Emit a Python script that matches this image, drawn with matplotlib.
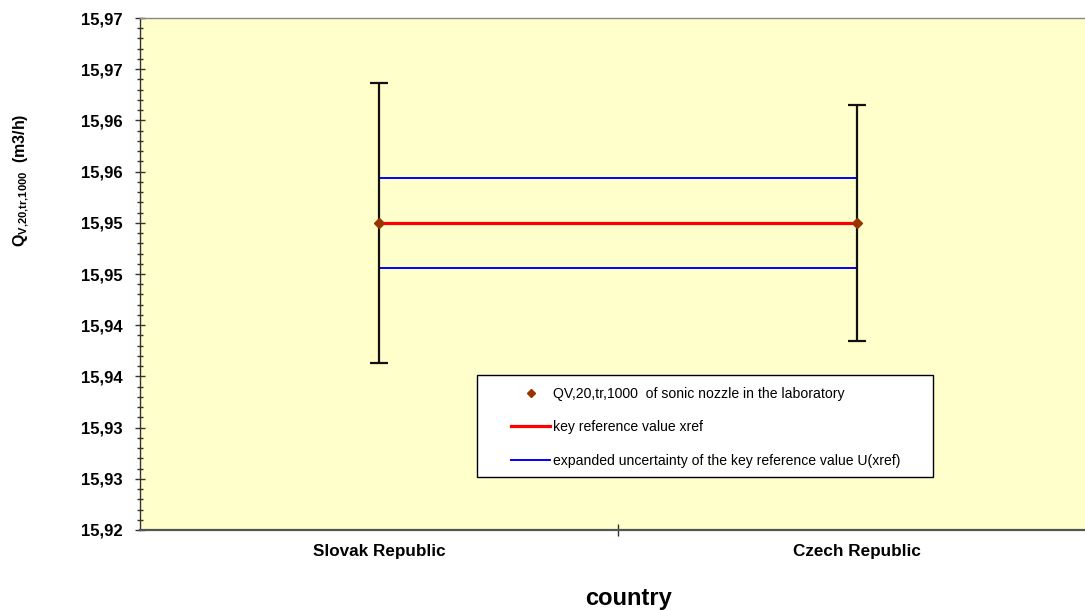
import matplotlib
matplotlib.use('Agg')
import matplotlib.pyplot as plt
from matplotlib.ticker import MultipleLocator, FuncFormatter, FixedLocator, NullFormatter
from matplotlib.patches import Rectangle
from matplotlib.lines import Line2D

# ---- data ----
countries = ["Slovak Republic", "Czech Republic"]
lab_values = [15.950, 15.950]
lab_uncert = [0.0137, 0.0115]
xref = 15.950
U_xref = 0.0044
y_min, y_max, y_major, y_minor = 15.92, 15.97, 0.005, 0.001
legend_labels = ["QV,20,tr,1000  of sonic nozzle in the laboratory",
                 "key reference value xref",
                 "expanded uncertainty of the key reference value U(xref)"]

plt.rcParams['font.family'] = ['Liberation Sans', 'DejaVu Sans']
plt.rcParams['font.weight'] = 'bold'
plt.rcParams['mathtext.fontset'] = 'custom'
plt.rcParams['mathtext.rm'] = 'Liberation Sans:weight=bold'
plt.rcParams['mathtext.bf'] = 'Liberation Sans:weight=bold'
plt.rcParams['mathtext.it'] = 'Liberation Sans:weight=bold'
plt.rcParams['mathtext.sf'] = 'Liberation Sans:weight=bold'

W, H = 1085, 610
fig = plt.figure(figsize=(W / 100, H / 100), dpi=100)
ax = fig.add_axes([140 / W, 1 - 530 / H, 956 / W, 512 / H])
ax.set_facecolor('#FFFFCC')

x = [i + 0.5 for i in range(len(countries))]
ax.plot([x[0], x[-1]], [xref + U_xref] * 2, color='#0000FF', lw=1.4, zorder=2)
ax.plot([x[0], x[-1]], [xref - U_xref] * 2, color='#0000FF', lw=1.4, zorder=2)
ax.plot([x[0], x[-1]], [xref] * 2, color='#FF0000', lw=2.3, zorder=3)
ax.errorbar(x, lab_values, yerr=lab_uncert, fmt='D', color='#993300', ms=5.5,
            ecolor='#111111', elinewidth=1.6, capsize=6.5, capthick=1.6, zorder=4)

ax.set_xlim(0, len(countries))
ax.set_ylim(y_min, y_max)

ax.yaxis.set_major_locator(MultipleLocator(y_major))
ax.yaxis.set_minor_locator(MultipleLocator(y_minor))
ax.yaxis.set_major_formatter(FuncFormatter(lambda v, p: f"{round(v + 1e-9, 2):.2f}".replace('.', ',')))
ax.tick_params(axis='y', which='major', direction='inout', length=7, width=1,
               labelsize=12, pad=8.7, color='#333333')
ax.tick_params(axis='y', which='minor', direction='inout', length=5, width=1, color='#333333')

ax.xaxis.set_major_locator(FixedLocator([1]))
ax.xaxis.set_major_formatter(NullFormatter())
ax.xaxis.set_minor_locator(FixedLocator(x))
ax.xaxis.set_minor_formatter(FuncFormatter(lambda v, p: countries[int(v)]))
ax.tick_params(axis='x', which='major', direction='inout', length=8, width=1, color='#333333')
ax.tick_params(axis='x', which='minor', length=0, labelsize=12.3, pad=10)

ax.spines['left'].set_color('#333333')
ax.spines['left'].set_linewidth(1.0)
ax.spines['bottom'].set_color('#555555')
ax.spines['bottom'].set_linewidth(1.6)
ax.spines['top'].set_color('#888888')
ax.spines['top'].set_linewidth(1.0)
ax.spines['right'].set_visible(False)

# legend
ax.add_patch(Rectangle((477 / W, 1 - 477 / H), 456 / W, 102 / H, transform=fig.transFigure,
                       facecolor='white', edgecolor='black', lw=1.0, zorder=4.5, clip_on=False))
handles = [Line2D([], [], marker='D', ls='none', color='#993300', ms=4.5),
           Line2D([], [], color='#FF0000', lw=2.3),
           Line2D([], [], color='#0000FF', lw=1.4)]
leg = ax.legend(handles, legend_labels, loc='upper left',
                bbox_to_anchor=(511 / W, 1 - 387 / H), bbox_transform=fig.transFigure,
                frameon=False, borderpad=0, borderaxespad=0, handlelength=2.8,
                handletextpad=0.2, labelspacing=1.38,
                prop={'size': 10.1, 'weight': 'normal'})
leg.set_zorder(5)

fig.text(21 / W, 1 - 180 / H, r'Q$_{\rm V{,}20{,}tr{,}1000}$  (m3/h)', rotation=90,
         ha='center', va='center', fontsize=11.5, fontweight='bold')
fig.text(628 / W, 1 - 598 / H, 'country', ha='center', va='center', fontsize=17, fontweight='bold')

fig.savefig('out.png', dpi=100)
